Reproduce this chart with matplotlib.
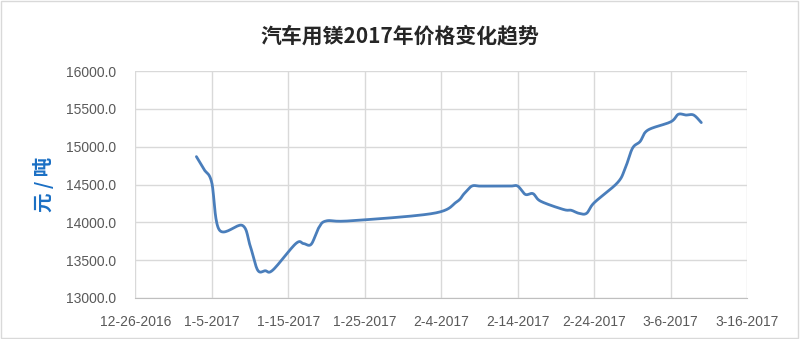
import matplotlib.pyplot as plt
import matplotlib.dates as mdates
import numpy as np
import pandas as pd

plt.rcParams['font.family'] = ['Liberation Sans', 'Noto Sans CJK SC', 'DejaVu Sans']

# price data (yuan / ton)
dates = ['2017-01-03', '2017-01-04', '2017-01-05', '2017-01-06', '2017-01-09',
         '2017-01-10', '2017-01-11', '2017-01-12', '2017-01-13', '2017-01-16',
         '2017-01-17', '2017-01-18', '2017-01-19', '2017-01-20', '2017-01-23',
         '2017-02-03', '2017-02-06', '2017-02-07', '2017-02-08', '2017-02-09',
         '2017-02-10', '2017-02-13', '2017-02-14', '2017-02-15', '2017-02-16',
         '2017-02-17', '2017-02-20', '2017-02-21', '2017-02-22', '2017-02-23',
         '2017-02-24', '2017-02-27', '2017-02-28', '2017-03-01', '2017-03-02',
         '2017-03-03', '2017-03-06', '2017-03-07', '2017-03-08', '2017-03-09',
         '2017-03-10']
prices = [14870, 14700, 14530, 13900, 13960,
          13700, 13370, 13360, 13370, 13720,
          13720, 13710, 13930, 14020, 14020,
          14120, 14270, 14380, 14480, 14480,
          14480, 14480, 14480, 14370, 14380,
          14280, 14170, 14160, 14120, 14120,
          14260, 14520, 14700, 14980, 15070,
          15220, 15330, 15430, 15420, 15420,
          15320]
tick_dates = ['2016-12-26', '2017-01-05', '2017-01-15', '2017-01-25', '2017-02-04',
              '2017-02-14', '2017-02-24', '2017-03-06', '2017-03-16']
tick_labels = ['12-26-2016', '1-5-2017', '1-15-2017', '1-25-2017', '2-4-2017',
               '2-14-2017', '2-24-2017', '3-6-2017', '3-16-2017']
title = '汽车用镁2017年价格变化趋势'
ylabel = '元 / 吨'


def smooth(x, y, n=20):
    # Excel-like smoothed line (Catmull-Rom through the points)
    x = np.asarray(x, float)
    y = np.asarray(y, float)
    px = np.concatenate([[x[0]], x, [x[-1]]])
    py = np.concatenate([[y[0]], y, [y[-1]]])
    xs, ys = [], []
    t = np.linspace(0, 1, n, endpoint=False)
    for i in range(1, len(px) - 2):
        p0, p1, p2, p3 = px[i - 1], px[i], px[i + 1], px[i + 2]
        q0, q1, q2, q3 = py[i - 1], py[i], py[i + 1], py[i + 2]
        c1x, c1y = p1 + (p2 - p0) / 6, q1 + (q2 - q0) / 6
        c2x, c2y = p2 - (p3 - p1) / 6, q2 - (q3 - q1) / 6
        b = [(1 - t) ** 3, 3 * (1 - t) ** 2 * t, 3 * (1 - t) * t ** 2, t ** 3]
        xs.append(b[0] * p1 + b[1] * c1x + b[2] * c2x + b[3] * p2)
        ys.append(b[0] * q1 + b[1] * c1y + b[2] * c2y + b[3] * q2)
    xs.append([x[-1]])
    ys.append([y[-1]])
    return np.concatenate(xs), np.concatenate(ys)


xd = mdates.date2num(pd.to_datetime(dates))
sx, sy = smooth(xd, prices)

fig = plt.figure(figsize=(8, 3.39), dpi=100)
ax = fig.add_axes([0.169, 0.121, 0.765, 0.669])

ax.plot(sx, sy, color='#4A7EBB', linewidth=2.0, solid_capstyle='round')

ticks = mdates.date2num(pd.to_datetime(tick_dates))
ax.set_xlim(ticks[0], ticks[-1])
ax.set_xticks(ticks)
ax.set_xticklabels(tick_labels)
ax.set_ylim(13000, 16000)
ax.set_yticks(np.arange(13000, 16001, 500))
ax.yaxis.set_major_formatter(plt.FuncFormatter(lambda v, p: f'{v:.1f}'))

ax.grid(True, color='#D9D9D9', linewidth=1.0)
ax.set_axisbelow(True)
for s in ['top', 'right', 'left']:
    ax.spines[s].set_visible(False)
ax.spines['bottom'].set_color('#BFBFBF')
ax.tick_params(length=0, labelsize=10, colors='#595959')
ax.tick_params(axis='x', pad=12)
ax.tick_params(axis='y', pad=14)

fig.text(0.5, 0.895, title, ha='center', va='center', fontsize=15,
         fontweight='bold', color='#262626', family=['Noto Sans CJK SC', 'DejaVu Sans'])
fig.text(0.054, 0.455, ylabel, ha='center', va='center', rotation=90, fontsize=14,
         fontweight='bold', color='#1A6FC4', family=['Noto Sans CJK SC', 'DejaVu Sans'])

fig.patches.append(plt.Rectangle((0.001, 0.002), 0.997, 0.995, transform=fig.transFigure,
                                 fill=False, edgecolor='#D9D9D9', linewidth=1))

fig.savefig('out.png', dpi=100)
